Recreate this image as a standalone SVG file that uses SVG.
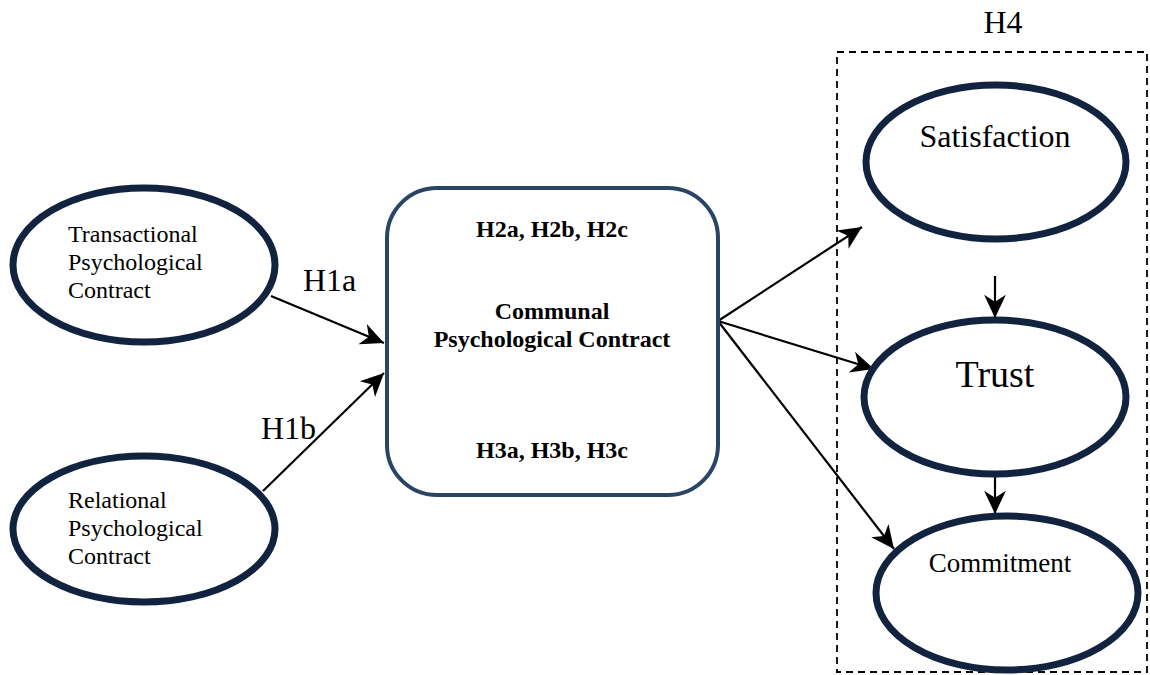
<svg xmlns="http://www.w3.org/2000/svg" width="1150" height="675" viewBox="0 0 1150 675">
<style>
.ell{fill:#fff;stroke:#12233f;stroke-width:7}
.t{font-family:"Liberation Serif","Times New Roman",serif;fill:#000}
.c{stroke:#000;stroke-width:2.2;fill:none;marker-end:url(#ah)}
.s{font-size:24px}
.b{font-size:24px;font-weight:bold;text-anchor:middle}
</style>
<defs>
<marker id="ah" markerUnits="userSpaceOnUse" markerWidth="30" markerHeight="30" viewBox="-20 -10 22 20" refX="0" refY="0" orient="auto">
<path d="M0,0 L-17,-8 L-12,0 L-17,8 Z" fill="#000"/>
</marker>
</defs>
<rect width="1150" height="675" fill="#fff"/>
<rect id="h4box" x="837" y="52" width="310" height="620" fill="none" stroke="#000" stroke-width="1.8" stroke-dasharray="7,5"/>
<text class="t" x="1003" y="33" font-size="32" text-anchor="middle">H4</text>
<g id="connectors">
<line class="c" x1="271" y1="296" x2="384" y2="343"/>
<line class="c" x1="263" y1="491" x2="384" y2="373"/>
<line class="c" x1="718" y1="321" x2="862" y2="227"/>
<line class="c" x1="718" y1="321" x2="874" y2="369"/>
<line class="c" x1="718" y1="321" x2="894" y2="549"/>
<line class="c" x1="995" y1="276" x2="995" y2="318"/>
<line class="c" x1="995" y1="475" x2="995" y2="514"/>
<text class="t" x="303" y="291" font-size="32">H1a</text>
<text class="t" x="261" y="439" font-size="32">H1b</text>
</g>
<g id="transactional">
<ellipse class="ell" cx="144" cy="265" rx="131" ry="77"/>
<text class="t s" x="68" y="242">Transactional</text>
<text class="t s" x="68" y="270">Psychological</text>
<text class="t s" x="68" y="298">Contract</text>
</g>
<g id="relational">
<ellipse class="ell" cx="144" cy="529" rx="131" ry="73"/>
<text class="t s" x="68" y="508">Relational</text>
<text class="t s" x="68" y="536">Psychological</text>
<text class="t s" x="68" y="564">Contract</text>
</g>
<g id="communal">
<rect x="387" y="188" width="331" height="307" rx="50" ry="50" fill="#fff" stroke="#2a4466" stroke-width="4"/>
<text class="t b" x="552" y="237">H2a, H2b, H2c</text>
<text class="t b" x="552" y="319">Communal</text>
<text class="t b" x="552" y="347">Psychological Contract</text>
<text class="t b" x="552" y="458">H3a, H3b, H3c</text>
</g>
<g id="satisfaction">
<ellipse class="ell" cx="996" cy="162" rx="130" ry="77"/>
<text class="t" x="995" y="147" font-size="32" text-anchor="middle">Satisfaction</text>
</g>
<g id="trust">
<ellipse class="ell" cx="995" cy="397" rx="131" ry="77"/>
<text class="t" x="995" y="387" font-size="38" text-anchor="middle">Trust</text>
</g>
<g id="commitment">
<ellipse class="ell" cx="1007" cy="593" rx="131" ry="77"/>
<text class="t" x="1000" y="572" font-size="27" text-anchor="middle">Commitment</text>
</g>
</svg>
